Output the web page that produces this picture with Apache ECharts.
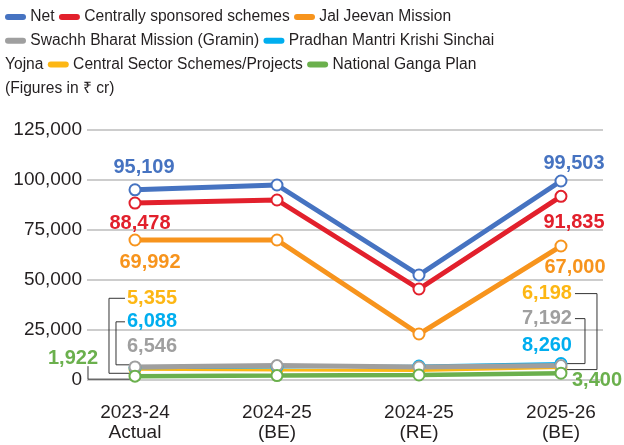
<!DOCTYPE html>
<html>
<head>
<meta charset="utf-8">
<script src="https://cdn.jsdelivr.net/npm/echarts@6/dist/echarts.min.js"></script>
<style>
  html, body { margin: 0; padding: 0; background: #fff; }
  #main { width: 624px; height: 445px; }
</style>
</head>
<body>
<div id="main"></div>
<script>
// data (Figures in ₹ cr)
var categories = ['2023-24\nActual', '2024-25\n(BE)', '2024-25\n(RE)', '2025-26\n(BE)'];
var netVals   = [95109, 97500, 52500, 99503];
var cssVals   = [88478, 90000, 45500, 91835];
var jjmVals   = [69992, 70000, 23000, 67000];
var sbmVals   = [6546, 7192, 6500, 7192];
var pmksyVals = [6088, 6500, 7000, 8260];
var csVals    = [5355, 5000, 4800, 6198];
var ngpVals   = [1922, 2200, 2500, 3400];
var yTicks = [0, 25000, 50000, 75000, 100000, 125000];

var names = ['Net', 'Centrally sponsored schemes', 'Jal Jeevan Mission',
  'Swachh Bharat Mission (Gramin)', 'Pradhan Mantri Krishi Sinchai Yojna',
  'Central Sector Schemes/Projects', 'National Ganga Plan'];
var colors = ['#4673c1', '#e2202c', '#f7941d', '#9f9f9f', '#00aeef', '#fdb714', '#6bb04d'];

var chart = echarts.init(document.getElementById('main'), null, { renderer: 'canvas' });

function fmt(v) { return v.toLocaleString('en-US'); }

// label placement for the end points: [dx, dy] from the point
function build(vals, labels) {
  return vals.map(function (v, i) {
    var item = { value: [i, v] };
    if (labels[i]) {
      item.label = {
        show: true, position: 'inside', offset: labels[i].off,
        align: labels[i].align || 'center', verticalAlign: 'middle'
      };
    } else {
      item.label = { show: false };
    }
    return item;
  });
}

function line(idx, vals, width, labels) {
  return {
    name: names[idx],
    type: 'line',
    data: build(vals, labels),
    symbol: 'emptyCircle',
    symbolSize: 11,
    lineStyle: { color: colors[idx], width: width },
    itemStyle: { color: colors[idx], borderColor: colors[idx], borderWidth: 2.5 },
    label: {
      color: colors[idx], fontFamily: 'Liberation Sans', fontWeight: 'bold', fontSize: 20,
      formatter: function (p) { return fmt(p.value[1]); }
    },
    emphasis: { disabled: true },
    z: 2
  };
}

// legend drawn as wrapped rich text, like the print version
var rich = {};
colors.forEach(function (c, i) {
  rich['k' + i] = { width: 21, height: 6, backgroundColor: c, borderRadius: 3, verticalAlign: 'middle' };
});
var legendText = names.map(function (n, i) {
  return '{k' + i + '| } ' + n;
}).join(' ');
legendText = legendText.replace(' {k3', '\n{k3').replace('Sinchai ', 'Sinchai\n') + '\n(Figures in ₹ cr)';

var option = {
  animation: false,
  title: {
    text: legendText,
    left: 5, top: 5, padding: 0,
    textStyle: {
      fontFamily: 'Liberation Sans, Arial, sans-serif',
      fontSize: 15.6, fontWeight: 'normal', color: '#231f20', lineHeight: 23.8,
      rich: rich
    }
  },
  grid: { left: 87, right: 21, top: 130, bottom: 65 },
  xAxis: {
    type: 'value', min: -0.338, max: 3.296,
    splitLine: { show: false },
    axisLine: { show: false },
    axisTick: { show: false },
    axisLabel: {
      customValues: [0, 1, 2, 3],
      formatter: function (v) { return categories[Math.round(v)]; },
      margin: 23, color: '#231f20', fontSize: 19, lineHeight: 20,
      fontFamily: 'Liberation Sans'
    }
  },
  yAxis: {
    type: 'value', min: yTicks[0], max: yTicks[yTicks.length - 1], interval: 25000,
    axisLine: { show: false },
    axisTick: { show: false },
    splitLine: { lineStyle: { color: '#bdbdbd', width: 1.5 } },
    axisLabel: {
      formatter: fmt, margin: 5, color: '#231f20', fontSize: 19,
      fontFamily: 'Liberation Sans'
    }
  },
  series: [
    line(0, netVals, 5, { 0: { off: [9, -22] }, 3: { off: [13, -18] } }),
    line(1, cssVals, 5, { 0: { off: [5, 20] }, 3: { off: [13, 26] } }),
    line(2, jjmVals, 5, { 0: { off: [15, 22] }, 3: { off: [14, 21] } }),
    line(5, csVals, 3, { 0: { off: [17, -71] }, 3: { off: [-14, -74] } }),
    line(4, pmksyVals, 3, { 0: { off: [17, -46] }, 3: { off: [-14, -18] } }),
    line(3, sbmVals, 5, { 0: { off: [17, -20] }, 3: { off: [-14, -47] } }),
    line(6, ngpVals, 4.5, { 0: { off: [-62, -18] }, 3: { off: [11, 7], align: 'left' } })
  ]
};
chart.setOption(option);

// leader lines from the small labels to their points
var leaders = [
  { s: 3, i: 0, path: [[-10, -71], [-26, -71], [-26, 4], [0, 4]] },
  { s: 4, i: 0, path: [[-10, -46], [-19, -46], [-19, -3], [0, -3]] },
  { s: 6, i: 0, path: [[-47, -10], [-47, 3], [0, 3]] },
  { s: 3, i: 3, path: [[14, -74], [36, -74], [36, 2], [4, 2]] },
  { s: 5, i: 3, path: [[14, -47], [24, -47], [24, -2], [4, -2]] }
];
var graphics = leaders.map(function (ld) {
  var v = option.series[ld.s].data[ld.i].value;
  var p = chart.convertToPixel({ seriesIndex: ld.s }, v);
  return {
    type: 'polyline', z: 1, silent: true,
    shape: { points: ld.path.map(function (o) { return [p[0] + o[0], p[1] + o[1]]; }) },
    style: { stroke: '#333', lineWidth: 1, fill: null }
  };
});
chart.setOption({ graphic: graphics });
</script>
</body>
</html>
